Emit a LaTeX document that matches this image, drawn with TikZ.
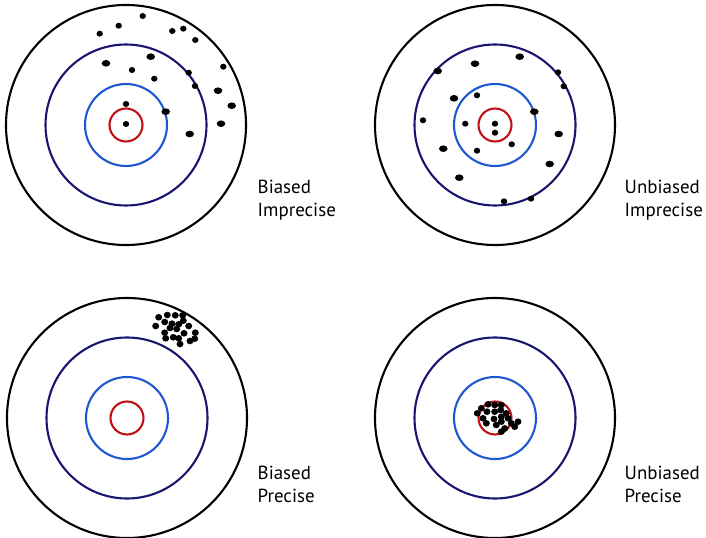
\documentclass[tikz,border=0pt]{standalone}
\usepackage{fontspec}
\setmainfont{PT Sans}

\definecolor{ringnavy}{RGB}{24,22,110}
\definecolor{ringblue}{RGB}{28,88,208}
\definecolor{ringred}{RGB}{192,18,22}

\tikzset{
  ring/.style={line width=2.1bp},
  shot/.style={fill=black},
  caption/.style={anchor=north west,inner sep=0pt,align=left,
    font=\fontsize{19}{22.5}\selectfont},
}

\begin{document}
\begin{tikzpicture}[x=1bp,y=-1bp]
\useasboundingbox (0,0) rectangle (706,538);

% four targets
\foreach \cx/\cy in {126/125,495/125,127/418,495/418}{
\draw[ring,black] (\cx,\cy) circle (120);
\draw[ring,ringnavy] (\cx,\cy) circle (80.5);
\draw[ring,ringblue] (\cx,\cy) circle (41);
\draw[ring,ringred] (\cx,\cy) circle (16.5);
}

% biased, imprecise
\foreach \p/\q in {142.7/16,118.7/25.7,99.7/33.7,172.3/31,183.3/28.7,195.3/40,
  132/70,154.3/78.7,188.7/72.7,223.3/66.7,195/86,126/104,126/124}
  \fill[shot] (\p,\q) ellipse (3.2 and 3);
\foreach \p/\q in {106/63.3,150.7/56.7,218/90.7,231.7/105.7,165.7/111.7,
  221/123.7,189.7/134}
  \fill[shot] (\p,\q) ellipse (4.3 and 3.3);

% unbiased, imprecise
\foreach \p/\q in {558/72.3,563.7/86.3,477/95.3,423/120.3,465.3/123.7,495/123.7,
  495/132.7,511.7/144.3,477/150.7,504/201.3,531/198.7}
  \fill[shot] (\p,\q) ellipse (3.2 and 3);
\foreach \p/\q in {519.7/56.7,475/63.7,437.7/71,454/98.3,534.3/111.7,558.7/134,
  443.3/148.7,549.7/164,459.3/177.7}
  \fill[shot] (\p,\q) ellipse (4.3 and 3.3);

% biased, precise
\foreach \p/\q in {158.7/317.3,167.3/315,175.3/315.3,182.7/315.3,155.7/326,
  164.7/322,172/323.7,178.7/324.3,183.3/320.7,188.7/326,176.7/329,164.7/332.7,
  184/333.3,195.3/332.7,165.7/338.3,173.3/337.3,178.7/338.3,190/341,194.7/338.7,
  180/344,170/328}
  \fill[shot] (\p,\q) ellipse (3.5 and 3.3);

% unbiased, precise
\foreach \p/\q in {481.3/408.3,488/404.3,494.7/405,501.3/405,477.3/413.3,487/411.7,
  494.7/411.7,500.7/410,506.3/413.3,483/418.3,494/419,501.3/416.7,508/418.3,
  486.3/423.3,496.3/425,501.3/421.7,511.3/423.3,518/421.7,504.7/428.3,514.7/426.7,
  501.3/431.7}
  \fill[shot] (\p,\q) ellipse (3.5 and 3.3);

% captions
\node[caption] (bi) at (257.5,180) {Biased\\Imprecise};
\node[caption] (ui) at (624.5,180) {Unbiased\\Imprecise};
\node[caption] (bp) at (257.5,466) {Biased\\Precise};
\node[caption] (up) at (624.5,466) {Unbiased\\Precise};

\end{tikzpicture}
\end{document}
